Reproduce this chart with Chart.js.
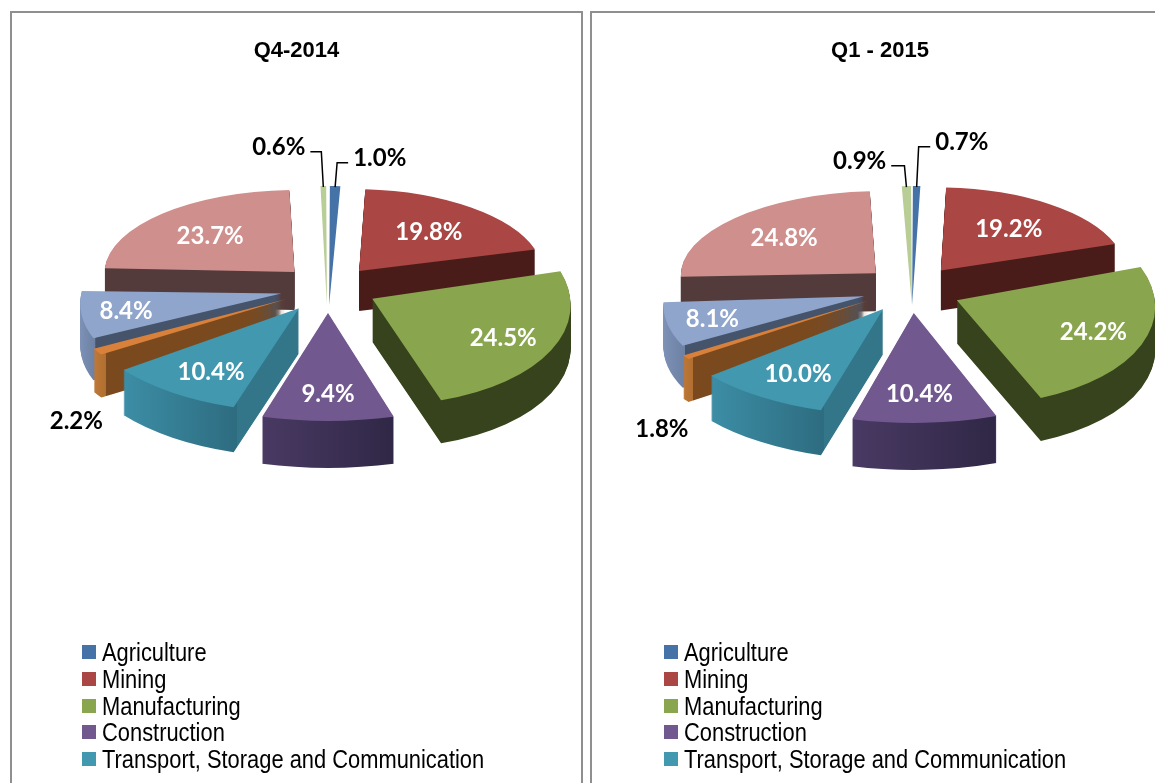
<!DOCTYPE html>
<html>
<head>
<meta charset="utf-8">
<script src="https://cdn.jsdelivr.net/npm/chart.js@4"></script>
<style>
html,body{margin:0;padding:0;background:#fff;width:1155px;height:783px;overflow:hidden}
.panel{position:absolute;top:11px;height:790px;border:2px solid #8f8f8f;box-sizing:border-box;background:#fff;overflow:hidden}
#p1{left:10px;width:573px}
#p2{left:590px;width:580px}
canvas{position:absolute;left:0;top:0}
.legend{position:absolute;top:626px;font:25px/26.8px "Liberation Sans",sans-serif;color:#000;white-space:nowrap}
.legend div{height:26.8px;position:relative}
.legend i{position:absolute;left:0;top:6px;width:14px;height:14px}
.legend span{position:absolute;left:20px;top:0;transform:scaleX(.875);transform-origin:0 0}
</style>
</head>
<body>
<div class="panel" id="p1"><canvas id="c1" width="569" height="786"></canvas><div class="legend" id="l1" style="left:70px"></div></div>
<div class="panel" id="p2"><canvas id="c2" width="576" height="786"></canvas><div class="legend" id="l2" style="left:72px"></div></div>
<script>
// ---- data ----
const categories = ["Agriculture","Mining","Manufacturing","Construction","Transport, Storage and Communication","Electricity, Gas and Water","Finance and Business Services","Trade, Hotels and Restaurants","Other Services"];
const legendCount = 5;
const q4Values = [1.0,19.8,24.5,9.4,10.4,2.2,8.4,23.7,0.6];
const q1Values = [0.7,19.2,24.2,10.4,10.0,1.8,8.1,24.8,0.9];
const titles = ["Q4-2014","Q1 - 2015"];

// ---- styles ----
const topColors = ["#4572a7","#aa4643","#89a54e","#71588f","#4198af","#d9803a","#8fa5cc","#cf8f8d","#b9cd96"];
const walls = [
  null,
  {a:"#4a1c19",b:"#4a1c19"},
  {a:"#36431c",b:"#36431c"},
  {a:"#4a3a64",b:"#2f2745"},
  {a:"#3c8ea6",b:"#2e6c80",cut:"#337589"},
  {a:"#c47b38",b:"#b06f32",cut:"#7a4a1e"},
  {a:"#7f93b8",b:"#6d81a5",cut:"#45536b"},
  {a:"#533a3b",b:"#533a3b"},
  null
];
const drawOrder = [0,8,7,1,6,5,4,2,3];
const explode = [5,50,50,50,50,50,50,50,5];
const baseRadius = 200;
const depths = [0,40,43,47,45,43,42,38,0];
const blackLabels = [0,5,8];
// per-slice perspective tuning: [sx, sy, dx, dy, shear]
const view1 = [[.95,.595,1,18,0],[.92,.41,2,-3,.07],[.99,.53,1,-4,.11],[1.2,.54,0,-4,0],[1.1,.52,3,-3,.02],[1.09,.5,4,-4,-.05],[1,.5,2,-2,-.2],[.95,.41,0,-3.5,-.025],[.95,.595,-1,18,0]];
const view2 = [[1.03,.595,-1,18,0],[.925,.415,0,-3,.04],[.99,.525,-1,-1,.12],[1.18,.55,-2,-4.5,0],[1.12,.53,1.5,-3,.03],[1.1,.5,1.5,-4,-.05],[1,.49,-1,-1,-.18],[.975,.41,-1,-3,-.06],[.96,.595,-1,18,0]];
// label nudges from the slice anchor
const nudge1 = [[47,-77],[0,-2.5],[27,7],[0,14],[-11,11],[-98,89],[-38,3],[-4,-3],[-46,-88]];
const nudge2 = [[47,-93],[1,-3],[29,3],[-1,13],[-10,10.5],[-99,93],[-37,4],[-5,-4],[-49,-74]];
const labelFont = 'bold 24px Lato';

function pie3d(cx0, cy0, view, nudge){
  return {
    id:'pie3d',
    beforeDatasetsDraw(chart){
      const ctx = chart.ctx, meta = chart.getDatasetMeta(0);
      drawOrder.forEach(i=>{
        const arc = meta.data[i], v = view[i];
        const w = walls[i];
        const mid = (arc.startAngle+arc.endAngle)/2;
        const apexY = v[1]*Math.sin(mid)*explode[i];
        const place = (shift)=>{
          ctx.translate(cx0+v[2], cy0+v[3]+shift);
          ctx.transform(1,0,v[4],1,-v[4]*apexY,0);
          ctx.scale(v[0],v[1]);
          ctx.translate(-arc.x,-arc.y);
        };
        // ArcElement moves a slice by offset/4 and enlarges narrow ones; keep the rim at baseRadius
        const grow = explode[i]*(1-Math.sin(Math.min(Math.PI,arc.circumference)));
        const skin = (color)=>Object.create(arc,{
          outerRadius:{value:baseRadius-grow},
          options:{value:{
            backgroundColor:color,borderWidth:0,borderColor:color,borderAlign:'center',
            offset:explode[i]*4,spacing:0,circular:true,borderRadius:0,selfJoin:false
          }}
        });
        if(w){
          const r = baseRadius;
          const xs = arc.x + r*Math.cos(arc.startAngle), xe = arc.x + r*Math.cos(arc.endAngle);
          let g;
          if(w.cut){
            g = ctx.createLinearGradient(xe,0,arc.x,0);
            const f = (xs-xe)/(arc.x-xe);
            g.addColorStop(0,w.a); g.addColorStop(f,w.b); g.addColorStop(f,w.cut); g.addColorStop(1,w.cut);
          } else {
            g = ctx.createLinearGradient(Math.min(xs,xe),0,Math.max(xs,xe),0);
            g.addColorStop(0,w.a); g.addColorStop(1,w.b);
          }
          const layer = skin(g);
          for(let d=depths[i]; d>=1; d--){
            ctx.save(); place(d); layer.draw(ctx); ctx.restore();
          }
        }
        ctx.save(); place(0); skin(topColors[i]).draw(ctx); ctx.restore();
      });
      return false;
    },
    afterDraw(chart){
      const ctx = chart.ctx, meta = chart.getDatasetMeta(0);
      const data = chart.data.datasets[0].data;
      ctx.save();
      ctx.font = labelFont; ctx.textAlign='center'; ctx.textBaseline='middle';
      meta.data.forEach((arc,i)=>{
        const v = view[i], mid = (arc.startAngle+arc.endAngle)/2;
        const off = explode[i];
        const px = (rad)=>cx0+v[2]+v[0]*Math.cos(mid)*rad;
        const py = (rad)=>cy0+v[3]+v[1]*Math.sin(mid)*rad;
        const lx = px(off+.6*baseRadius)+nudge[i][0], ly = py(off+.6*baseRadius)+nudge[i][1]+2;
        const text = data[i].toFixed(1)+'%';
        const dark = blackLabels.includes(i);
        if(i===0||i===8){
          const rimX = px(off+baseRadius), rimY = py(off+baseRadius)+1;
          const half = ctx.measureText(text).width/2;
          const side = lx<rimX ? lx+half+5 : lx-half-5;
          const elbow = rimX + (lx<rimX ? -2 : 2);
          ctx.beginPath();
          ctx.moveTo(side,ly+4); ctx.lineTo(elbow,ly+4); ctx.lineTo(rimX,rimY);
          ctx.strokeStyle='#000'; ctx.lineWidth=1.5; ctx.stroke();
        }
        ctx.fillStyle = dark?'#000':'#fff';
        ctx.fillText(text,lx,ly);
      });
      ctx.restore();
    }
  };
}

function build(id, title, values, cx0, cy0, view, nudge){
  return new Chart(document.getElementById(id),{
    type:'pie',
    data:{labels:categories,datasets:[{data:values,backgroundColor:topColors,borderWidth:0,clip:false}]},
    options:{
      responsive:false,animation:false,radius:baseRadius,
      layout:{padding:0},
      events:[],
      plugins:{
        legend:{display:false},tooltip:{enabled:false},
        title:{display:true,text:title,color:'#000',font:{family:'"Liberation Sans"',size:22,weight:'bold'},padding:{top:25,bottom:0}}
      }
    },
    plugins:[pie3d(cx0,cy0,view,nudge)]
  });
}
build('c1',titles[0],q4Values,316,277,view1,nudge1);
build('c2',titles[1],q1Values,321,277,view2,nudge2);

['l1','l2'].forEach(id=>{
  const box=document.getElementById(id);
  categories.slice(0,legendCount).forEach((c,i)=>{
    const row=document.createElement('div');
    const sw=document.createElement('i'); sw.style.background=topColors[i];
    const tx=document.createElement('span'); tx.textContent=c;
    row.appendChild(sw); row.appendChild(tx);
    box.appendChild(row);
  });
});
</script>
</body>
</html>
